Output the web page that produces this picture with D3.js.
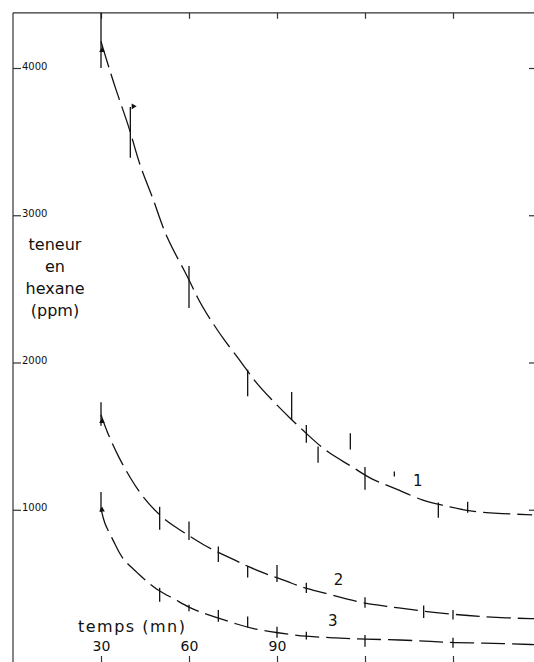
<!DOCTYPE html>
<html>
 <head>
  <meta charset="utf-8">
  <title>teneur en hexane</title>
  <script src="https://cdnjs.cloudflare.com/ajax/libs/d3/7.8.5/d3.min.js"></script>
  <style>
    body { margin: 0; background: #fff; }
    svg { display: block; }
    text { font-family: "DejaVu Sans", sans-serif; fill: #111; }
  </style>
 </head>
 <body>
  <div id="chart"></div>
  <script>
    // time axis (mn) and ppm axis
    var timeTicks  = [30, 60, 90, 120, 150];
    var timeLabels = ["30", "60", "90", "", ""];
    var ppmTicks   = [1000, 2000, 3000, 4000];
    var ppmLabels  = ["1000", "2000", "3000", "4000"];

    // curve 1
    var c1T = [30, 35, 40, 43, 48, 52, 59, 63, 67, 72, 78, 82, 88, 95, 101, 107, 116, 122, 130, 140, 147, 155, 165, 177];
    var c1V = [4180, 3850, 3580, 3340, 3110, 2850, 2610, 2430, 2300, 2150, 2000, 1880, 1750, 1610, 1500, 1390, 1290, 1205, 1150, 1055, 1030, 990, 975, 965];
    var bar1T  = [30, 40, 60, 80, 95, 100, 104, 115, 120, 130, 145, 155];
    var bar1Lo = [4000, 3390, 2370, 1770, 1610, 1455, 1320, 1410, 1135, 1225, 945, 980];
    var bar1Hi = [4375, 3735, 2655, 1950, 1800, 1575, 1430, 1520, 1290, 1260, 1050, 1055];

    // curve 2
    var c2T = [30, 32, 36, 40, 44, 50, 55, 60, 65, 70, 76, 80, 86, 90, 95, 100, 108, 117, 125, 131, 140, 150, 159, 168, 178];
    var c2V = [1645, 1530, 1355, 1215, 1090, 960, 885, 825, 760, 710, 655, 615, 565, 540, 500, 465, 425, 375, 350, 335, 310, 290, 275, 265, 260];
    var bar2T  = [30, 50, 60, 70, 80, 90, 100, 120, 140, 150];
    var bar2Lo = [1570, 865, 795, 645, 540, 510, 435, 335, 265, 255];
    var bar2Hi = [1730, 1020, 920, 750, 615, 625, 505, 405, 350, 320];

    // curve 3
    var c3T = [30, 31, 34, 36, 38, 42, 46, 50, 55, 60, 66, 70, 76, 82, 90, 100, 110, 120, 132, 143, 150, 161, 169, 178];
    var c3V = [1010, 910, 800, 715, 650, 580, 505, 445, 395, 335, 290, 265, 225, 190, 165, 138, 130, 120, 117, 105, 97, 95, 90, 84];
    var bar3T  = [30, 50, 60, 70, 80, 90, 100, 120, 150];
    var bar3Lo = [985, 375, 310, 240, 200, 130, 118, 70, 63];
    var bar3Hi = [1120, 470, 355, 320, 275, 205, 172, 150, 130];

    // small flags / arrow heads drawn on the curves
    var flagT = [40, 30, 30, 30];
    var flagV = [3740, 4120, 1600, 1000];
    var flagA = [90, 0, 0, 0];

    var width = 534, height = 662;
    var x = d3.scaleLinear().domain([0, 180]).range([13, 541]);
    var y = d3.scaleLinear().domain([0, 4000]).range([657, 68]);
    var ppmTop = 4375;

    var svg = d3.select("#chart").append("svg")
                .attr("width", width)
                .attr("height", height);

    // frame: left and top lines
    svg.append("line")
       .attr("x1", x(0)).attr("x2", x(0))
       .attr("y1", y(ppmTop)).attr("y2", height)
       .attr("stroke", "#333").attr("stroke-width", 1.2);
    svg.append("line")
       .attr("x1", x(0)).attr("x2", width)
       .attr("y1", y(ppmTop)).attr("y2", y(ppmTop))
       .attr("stroke", "#333").attr("stroke-width", 1.2);

    // top ticks
    var topAxis = svg.append("g")
       .attr("transform", "translate(0," + y(ppmTop) + ")")
       .call(d3.axisTop(x).tickValues(timeTicks).tickSize(-6).tickFormat(""));
    topAxis.select(".domain").remove();

    // bottom ticks and labels
    var bottomAxis = svg.append("g")
       .attr("transform", "translate(0," + height + ")")
       .call(d3.axisTop(x).tickValues(timeTicks).tickSize(6).tickPadding(5)
              .tickFormat(function(d, i) { return timeLabels[i]; }));
    bottomAxis.select(".domain").remove();
    bottomAxis.selectAll("text").style("font-size", "14px")
          .style("font-family", "DejaVu Sans").attr("fill", "#111");

    // left ticks and labels
    var leftAxis = svg.append("g")
       .attr("transform", "translate(" + x(0) + ",0)")
       .call(d3.axisRight(y).tickValues(ppmTicks).tickSize(8).tickPadding(1)
              .tickFormat(function(d, i) { return ppmLabels[i]; }));
    leftAxis.select(".domain").remove();
    leftAxis.selectAll("text").style("font-size", "10px")
        .style("font-family", "DejaVu Sans").attr("fill", "#555").attr("dy", "0.1em");

    // right ticks
    var rightAxis = svg.append("g")
       .attr("transform", "translate(" + width + ",0)")
       .call(d3.axisLeft(y).tickValues(ppmTicks).tickSize(5).tickFormat(""));
    rightAxis.select(".domain").remove();

    svg.selectAll(".tick line").attr("stroke", "#333").attr("stroke-width", 1.2);

    // curves (smoothed, dashed)
    var line = d3.line()
                 .x(function(d) { return x(d[0]); })
                 .y(function(d) { return y(d[1]); })
                 .curve(d3.curveBasis);

    var curves = [
      { t: c1T, v: c1V, dash: "27,7" },
      { t: c2T, v: c2V, dash: "24,7" },
      { t: c3T, v: c3V, dash: "24,7" }
    ];
    curves.forEach(function(c) {
      svg.append("path")
         .attr("d", line(d3.zip(c.t, c.v)))
         .attr("fill", "none")
         .attr("stroke", "#111")
         .attr("stroke-width", 1.3)
         .attr("stroke-dasharray", c.dash);
    });

    // error bars
    var bars = [
      { t: bar1T, lo: bar1Lo, hi: bar1Hi },
      { t: bar2T, lo: bar2Lo, hi: bar2Hi },
      { t: bar3T, lo: bar3Lo, hi: bar3Hi }
    ];
    bars.forEach(function(b) {
      svg.append("g").selectAll("line")
         .data(b.t)
         .enter().append("line")
         .attr("x1", function(d) { return x(d); })
         .attr("x2", function(d) { return x(d); })
         .attr("y1", function(d, i) { return y(b.lo[i]); })
         .attr("y2", function(d, i) { return y(b.hi[i]); })
         .attr("stroke", "#111")
         .attr("stroke-width", 1.3);
    });

    // flags
    svg.append("g").selectAll("path")
       .data(flagT)
       .enter().append("path")
       .attr("d", d3.symbol().type(d3.symbolTriangle).size(14))
       .attr("transform", function(d, i) {
          return "translate(" + (x(d) + (flagA[i] ? 3 : 1)) + "," + y(flagV[i]) + ") rotate(" + flagA[i] + ")";
       })
       .attr("fill", "#111");

    // curve numbers
    var numT = [138, 111, 109];
    var numV = [1160, 490, 210];
    var numL = ["1", "2", "3"];
    svg.append("g").selectAll("text")
       .data(numL)
       .enter().append("text")
       .attr("x", function(d, i) { return x(numT[i]); })
       .attr("y", function(d, i) { return y(numV[i]); })
       .attr("text-anchor", "middle")
       .style("font-size", "15px")
       .text(function(d) { return d; });

    // axis titles
    var title = ["teneur", "en", "hexane", "(ppm)"];
    svg.append("g").selectAll("text")
       .data(title)
       .enter().append("text")
       .attr("x", 55)
       .attr("y", function(d, i) { return 250 + i * 22; })
       .attr("text-anchor", "middle")
       .style("font-size", "16px")
       .text(function(d) { return d; });

    svg.append("text")
       .attr("x", 78).attr("y", 632)
       .style("font-size", "16px")
       .style("letter-spacing", "1.5px")
       .text("temps (mn)");
  </script>
 </body>
</html>
